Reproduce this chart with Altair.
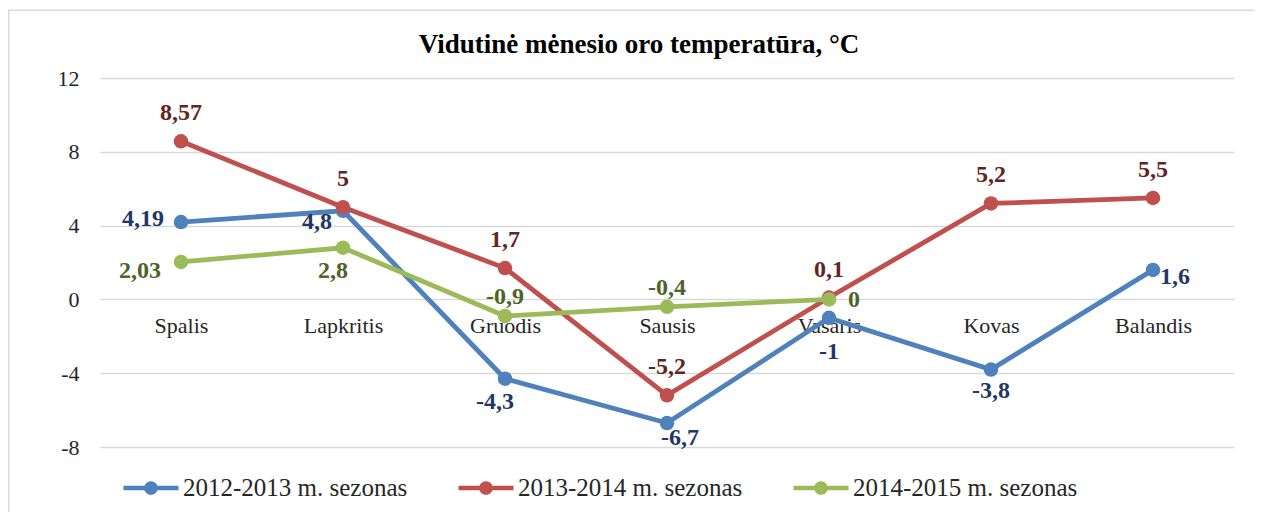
import altair as alt
import pandas as pd

# ---- data ----
months = ["Spalis", "Lapkritis", "Gruodis", "Sausis", "Vasaris", "Kovas", "Balandis"]
series_names = ["2012-2013 m. sezonas", "2013-2014 m. sezonas", "2014-2015 m. sezonas"]
s2012 = [4.19, 4.8, -4.3, -6.7, -1, -3.8, 1.6]
s2013 = [8.57, 5, 1.7, -5.2, 0.1, 5.2, 5.5]
s2014 = [2.03, 2.8, -0.9, -0.4, 0]  # season data ends at Vasaris
y_ticks = [-8, -4, 0, 4, 8, 12]
title_text = "Vidutinė mėnesio oro temperatūra, °C"

# ---- styles ----
line_colors = ["#4F81BD", "#C0504D", "#9BBB59"]
label_colors = ["#1F3864", "#632523", "#4F6228"]
FONT = "Liberation Serif"

# label placement code per point (style, not data)
placements = [
    ["L", "LB", "BL", "BR", "B2", "B", "R"],
    ["T", "T", "T", "T", "T", "T", "T"],
    ["LB2", "BL", "t", "t", "R0"],
]
offsets = {
    "T": (0, -28, "center"),
    "t": (0, -19, "center"),
    "B": (0, 21, "center"),
    "B2": (0, 34, "center"),
    "BR": (13, 15, "center"),
    "BL": (-10, 23, "center"),
    "L": (-17, -3, "right"),
    "LB": (-11, 11, "right"),
    "LB2": (-20, 9, "right"),
    "R": (7, 7, "left"),
    "R0": (19, 1, "left"),
}


def fmt(v):
    return f"{v:g}".replace(".", ",")


rows = []
for si, (name, vals) in enumerate(zip(series_names, [s2012, s2013, s2014])):
    for mi, v in enumerate(vals):
        rows.append({
            "series": name,
            "month": months[mi],
            "value": v,
            "label": fmt(v),
            "code": placements[si][mi],
        })
df = pd.DataFrame(rows)

x_enc = alt.X(
    "month:N",
    sort=months,
    scale=alt.Scale(type="point", padding=0.5),
    axis=alt.Axis(
        title=None, domain=False, ticks=False, grid=False, labelAngle=0,
        offset=-147.6, labelPadding=16, labelFont=FONT, labelFontSize=22,
        labelColor="#262626",
    ),
)
y_enc = alt.Y(
    "value:Q",
    scale=alt.Scale(domain=[-8, 12], nice=False, zero=False),
    axis=alt.Axis(
        title=None, values=y_ticks, domain=False, ticks=False,
        labelPadding=21, labelFont=FONT, labelFontSize=22, labelColor="#262626",
        gridColor="#D9D9D9", gridWidth=1.5,
        labelExpr="replace(toString(datum.value), '.', ',')",
    ),
)

legend_symbol = (
    "M-2,-0.16L2,-0.16L2,0.16L-2,0.16Z"
    "M0.5,0A0.5,0.5,0,1,1,-0.5,0A0.5,0.5,0,1,1,0.5,0Z"
)
legend = alt.Legend(
    title=None, orient="none", direction="horizontal",
    legendX=37, legendY=396,
    symbolType=legend_symbol, symbolSize=756, symbolStrokeWidth=0,
    symbolOpacity=1,
    labelFont=FONT, labelFontSize=25, labelColor="#262626",
    labelOffset=18, columnPadding=50, padding=0,
    labelLimit=400,
)
color_enc = alt.Color(
    "series:N",
    scale=alt.Scale(domain=series_names, range=line_colors),
    legend=legend,
)

base = alt.Chart(df)

lines = base.mark_line(strokeWidth=4.8).encode(x=x_enc, y=y_enc, color=color_enc)
points = base.mark_circle(size=210, opacity=1).encode(x=x_enc, y=y_enc, color=color_enc)

label_layers = []
for si, name in enumerate(series_names):
    for code, (dx, dy, align) in offsets.items():
        if code not in placements[si]:
            continue
        label_layers.append(
            base.transform_filter(
                (alt.datum.code == code) & (alt.datum.series == name)
            )
            .mark_text(dx=dx, dy=dy, align=align, baseline="middle",
                       font=FONT, fontSize=24, fontWeight="bold",
                       color=label_colors[si])
            .encode(x=x_enc, y=y_enc, text="label:N")
        )

one = pd.DataFrame({"a": [0]})
border = alt.Chart(one).mark_rect(
    fillOpacity=0, stroke="#D9D9D9", strokeWidth=1.5
).encode(
    x=alt.value(-91.25), x2=alt.value(1400), y=alt.value(-67.75), y2=alt.value(600)
)

title = alt.Chart(one).mark_text(
    text=title_text, font=FONT, fontSize=27, fontWeight="bold", color="#000000",
    align="center", baseline="alphabetic",
).encode(x=alt.value(539), y=alt.value(-25))

chart = (
    alt.layer(border, title, lines, points, *label_layers)
    .properties(
        width=1134,
        height=369,
        padding={"left": 92, "top": 70, "right": 20, "bottom": 65},
        autosize=alt.AutoSizeParams(type="none"),
    )
    .configure_view(strokeWidth=0)
    .configure_legend(labelFont=FONT, labelFontSize=25, labelColor="#262626")
)

chart.save("out.html", embed_options={"renderer": "svg", "actions": False})
